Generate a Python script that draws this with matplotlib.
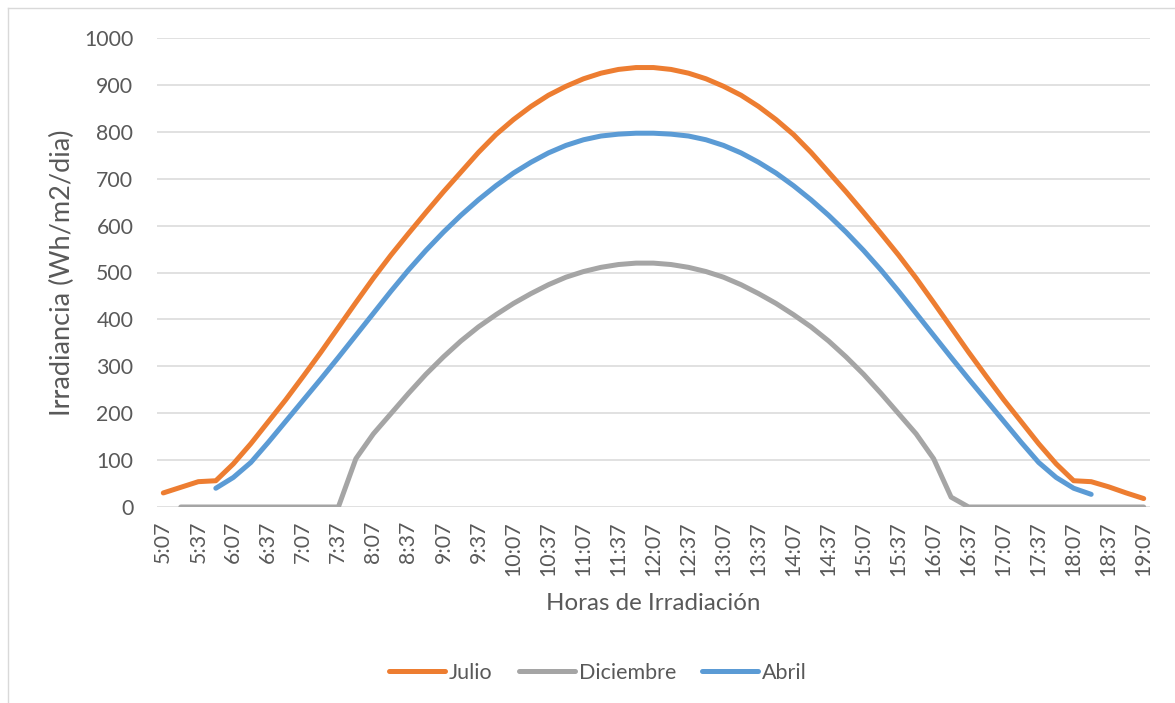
import numpy as np
import matplotlib
matplotlib.use("Agg")
import matplotlib.pyplot as plt
from matplotlib.lines import Line2D

plt.rcParams['font.family'] = ['Lato', 'DejaVu Sans']

horas = ["5:07", "5:22", "5:37", "5:52", "6:07", "6:22", "6:37", "6:52", "7:07", "7:22",
         "7:37", "7:52", "8:07", "8:22", "8:37", "8:52", "9:07", "9:22", "9:37", "9:52",
         "10:07", "10:22", "10:37", "10:52", "11:07", "11:22", "11:37", "11:52", "12:07", "12:22",
         "12:37", "12:52", "13:07", "13:22", "13:37", "13:52", "14:07", "14:22", "14:37", "14:52",
         "15:07", "15:22", "15:37", "15:52", "16:07", "16:22", "16:37", "16:52", "17:07", "17:22",
         "17:37", "17:52", "18:07", "18:22", "18:37", "18:52", "19:07"]

julio = [30, 42, 54, 56, 92, 135, 182, 229, 279, 330,
         383, 436, 488, 537, 583, 628, 672, 714, 756, 794,
         826, 854, 878, 897, 913, 925, 933, 937, 937, 933,
         925, 913, 897, 878, 854, 826, 794, 756, 714, 672,
         628, 583, 537, 488, 436, 383, 330, 279, 229, 182,
         135, 92, 56, 54, 43, 30, 18]

diciembre = [None, 0, 0, 0, 0, 0, 0, 0, 0, 0,
             0, 103, 156, 199, 242, 283, 320, 354, 384, 410,
             434, 455, 474, 490, 502, 511, 517, 520, 520, 517,
             511, 502, 490, 474, 455, 434, 410, 384, 354, 320,
             283, 242, 199, 156, 103, 21, 0, 0, 0, 0,
             0, 0, 0, 0, 0, 0, 0]

abril = [None, None, None, 40, 63, 95, 138, 183, 228, 273,
         319, 366, 413, 460, 505, 547, 586, 622, 655, 685,
         712, 735, 755, 771, 783, 791, 795, 797, 797, 795,
         791, 783, 771, 755, 735, 712, 685, 655, 622, 586,
         547, 505, 460, 413, 366, 319, 273, 228, 183, 138,
         95, 63, 40, 27, None, None, None]

series = [("Julio", julio, "#ED7D31"),
          ("Diciembre", diciembre, "#A5A5A5"),
          ("Abril", abril, "#5B9BD5")]

W, H = 1175, 703
fig = plt.figure(figsize=(W / 100, H / 100), dpi=100)
ax = fig.add_axes([157 / W, 1 - 507 / H, (1150 - 157) / W, (507 - 38) / H])

x = np.arange(len(horas))
for name, vals, col in series:
    y = np.array([np.nan if v is None else v for v in vals], dtype=float)
    ax.plot(x, y, color=col, lw=3.6, solid_capstyle='round', solid_joinstyle='round',
            label=name, zorder=3)

ax.set_xlim(-0.36, len(horas) - 1 + 0.36)
ax.set_ylim(0, 1000)
ax.set_yticks(np.arange(0, 1001, 100))
ax.set_xticks(x[::2])
ax.set_xticklabels(horas[::2], rotation=90)
ax.grid(axis='y', color='#D9D9D9', lw=1.1, zorder=0)
ax.set_axisbelow(True)
for s in ax.spines.values():
    s.set_visible(False)
ax.tick_params(axis='both', length=0, colors='#595959', labelsize=15.3)
ax.tick_params(axis='y', pad=17)
ax.tick_params(axis='x', pad=10)

fig.text(62 / W, 1 - 273 / H, "Irradiancia (Wh/m2/dia)", rotation=90, ha='center',
         va='center', fontsize=19.5, color='#595959')
fig.text(653 / W, 1 - 603 / H, "Horas de Irradiación", ha='center', va='center',
         fontsize=17.4, color='#595959')

handles = [Line2D([], [], color=c, lw=3.6, solid_capstyle='round') for _, _, c in series]
leg = fig.legend(handles, [n for n, _, _ in series], loc='center',
                 bbox_to_anchor=(598 / W, 1 - 673 / H), ncol=3, frameon=False,
                 fontsize=15.5, handlelength=2.6, handletextpad=0.2, columnspacing=1.2)
for t in leg.get_texts():
    t.set_color('#595959')

# outer chart border
fig.add_artist(Line2D([8 / W, 8 / W], [0, 1 - 8 / H], color='#D9D9D9', lw=1.0,
                      transform=fig.transFigure))
fig.add_artist(Line2D([8 / W, 1], [1 - 8 / H, 1 - 8 / H], color='#D9D9D9', lw=1.0,
                      transform=fig.transFigure))

fig.savefig("out.png", dpi=100)
